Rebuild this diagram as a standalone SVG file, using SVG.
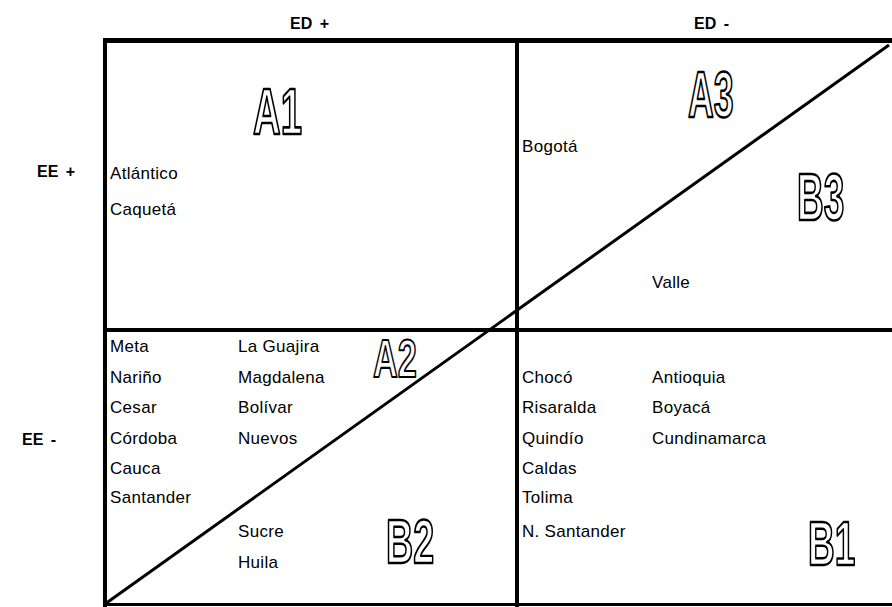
<svg xmlns="http://www.w3.org/2000/svg" width="892" height="607" viewBox="0 0 892 607">
<style>
.hd{font-family:"Liberation Sans",Arial,sans-serif;font-size:16px;font-weight:bold;fill:#000}
.lb{font-family:"Liberation Sans",Arial,sans-serif;font-size:17px;letter-spacing:0.3px;fill:#000}
.big{font-family:"Liberation Sans",Arial,sans-serif;font-size:66px;font-weight:bold;fill:#fff;stroke:#000;stroke-width:2.6;stroke-linejoin:round}
.ln{stroke:#000;fill:none}
</style>
<rect width="892" height="607" fill="#fff"/>
<g id="connectors">
<line class="ln" x1="103" y1="40.5" x2="892" y2="40.5" stroke-width="5"/>
<line class="ln" x1="105" y1="38" x2="105" y2="607" stroke-width="4"/>
<line class="ln" x1="517" y1="38" x2="517" y2="607" stroke-width="4"/>
<line class="ln" x1="105" y1="330" x2="892" y2="330" stroke-width="4"/>
<line class="ln" x1="105" y1="604.5" x2="892" y2="604.5" stroke-width="3"/>
<line class="ln" x1="105" y1="604" x2="889" y2="45" stroke-width="3"/>
</g>
<g id="headers">
<text class="hd" x="290" y="29">ED<tspan dx="3"> +</tspan></text>
<text class="hd" x="694" y="29">ED<tspan dx="3"> -</tspan></text>
<text class="hd" x="37" y="177">EE<tspan dx="3"> +</tspan></text>
<text class="hd" x="22" y="445">EE<tspan dx="3"> -</tspan></text>
</g>
<g id="A1">
<text class="big" transform="translate(253,134) scale(0.58,0.99)">A1</text>
<text class="lb" x="110" y="179">Atlántico</text>
<text class="lb" x="110" y="215">Caquetá</text>
</g>
<g id="A3">
<text class="big" transform="translate(688,117) scale(0.54,0.97)">A3</text>
<text class="lb" x="522" y="152">Bogotá</text>
</g>
<g id="B3">
<text class="big" transform="translate(797,220) scale(0.56,1)">B3</text>
<text class="lb" x="652" y="288">Valle</text>
</g>
<g id="A2">
<text class="big" transform="translate(373,377) scale(0.52,0.8)">A2</text>
<text class="lb" x="110" y="352">Meta</text>
<text class="lb" x="110" y="383">Nariño</text>
<text class="lb" x="110" y="413">Cesar</text>
<text class="lb" x="110" y="444">Córdoba</text>
<text class="lb" x="110" y="474">Cauca</text>
<text class="lb" x="110" y="503">Santander</text>
<text class="lb" x="238" y="352">La Guajira</text>
<text class="lb" x="238" y="383">Magdalena</text>
<text class="lb" x="238" y="413">Bolívar</text>
<text class="lb" x="238" y="444">Nuevos</text>
</g>
<g id="B2">
<text class="big" transform="translate(386,563) scale(0.57,0.95)">B2</text>
<text class="lb" x="238" y="537">Sucre</text>
<text class="lb" x="238" y="568">Huila</text>
</g>
<g id="B1">
<text class="big" transform="translate(808,565) scale(0.56,0.95)">B1</text>
<text class="lb" x="522" y="383">Chocó</text>
<text class="lb" x="522" y="413">Risaralda</text>
<text class="lb" x="522" y="444">Quindío</text>
<text class="lb" x="522" y="474">Caldas</text>
<text class="lb" x="522" y="503">Tolima</text>
<text class="lb" x="522" y="537">N. Santander</text>
<text class="lb" x="652" y="383">Antioquia</text>
<text class="lb" x="652" y="413">Boyacá</text>
<text class="lb" x="652" y="444">Cundinamarca</text>
</g>
</svg>
